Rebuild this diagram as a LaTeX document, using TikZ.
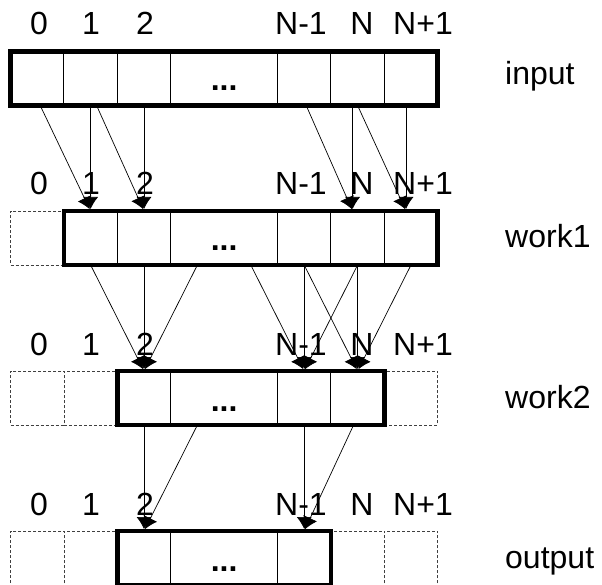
\documentclass[tikz,border=0pt]{standalone}
\usepackage{fontspec}
\setmainfont{Liberation Sans}
\usetikzlibrary{arrows.meta}
\begin{document}
\begin{tikzpicture}[x=1pt,y=-1pt,
  cellbox/.style={draw, line width=1pt, minimum height=54pt, inner sep=0pt, outer sep=0pt, anchor=north west},
  ghost/.style={draw=black!75, dash pattern=on 3pt off 2pt, line width=0.8pt, minimum height=54pt, inner sep=0pt, outer sep=0pt, anchor=north west},
  frame/.style={draw, line width=4.5pt},
  conn/.style={line width=0.7pt, shorten >=2pt, -{Latex[length=12pt,width=15pt]}},
  idx/.style={font=\fontsize{32}{32}\selectfont, anchor=base, inner sep=0pt},
  rowlabel/.style={font=\fontsize{32}{32}\selectfont, anchor=base west, inner sep=0pt},
  dots/.style={font=\fontsize{32}{32}\selectfont\bfseries, anchor=base, inner sep=0pt}
]
\useasboundingbox (0,0) rectangle (602,585);
\def\w{53.4}
\def\ww{106.8}
% ---------------- input row (top 51.5)
\node[cellbox, minimum width=\w pt] (i0) at (10.5,51.5) {};
\node[cellbox, minimum width=\w pt] (i1) at (63.9,51.5) {};
\node[cellbox, minimum width=\w pt] (i2) at (117.3,51.5) {};
\node[cellbox, minimum width=\ww pt] (id) at (170.7,51.5) {};
\node[cellbox, minimum width=\w pt] (im) at (277.5,51.5) {};
\node[cellbox, minimum width=\w pt] (in) at (330.9,51.5) {};
\node[cellbox, minimum width=\w pt] (ip) at (384.3,51.5) {};
\draw[frame] (i0.north west) rectangle (ip.south east);
\node[dots] (idt) at (224.1,91) {...};
% ---------------- work1 row (top 211)
\node[ghost, minimum width=\w pt] (w0) at (10.5,211) {};
\node[cellbox, minimum width=\w pt] (w1) at (63.9,211) {};
\node[cellbox, minimum width=\w pt] (w2) at (117.3,211) {};
\node[cellbox, minimum width=\ww pt] (wd) at (170.7,211) {};
\node[cellbox, minimum width=\w pt] (wm) at (277.5,211) {};
\node[cellbox, minimum width=\w pt] (wn) at (330.9,211) {};
\node[cellbox, minimum width=\w pt] (wp) at (384.3,211) {};
\draw[frame] (w1.north west) rectangle (wp.south east);
\node[dots] (wdt) at (224.1,251) {...};
% ---------------- work2 row (top 371)
\node[ghost, minimum width=\w pt] (v0) at (10.5,371) {};
\node[ghost, minimum width=\w pt] (v1) at (63.9,371) {};
\node[cellbox, minimum width=\w pt] (v2) at (117.3,371) {};
\node[cellbox, minimum width=\ww pt] (vd) at (170.7,371) {};
\node[cellbox, minimum width=\w pt] (vm) at (277.5,371) {};
\node[cellbox, minimum width=\w pt] (vn) at (330.9,371) {};
\node[ghost, minimum width=\w pt] (vp) at (384.3,371) {};
\draw[frame] (v2.north west) rectangle (vn.south east);
\node[dots] (vdt) at (224.1,411) {...};
% ---------------- output row (top 531)
\node[ghost, minimum width=\w pt] (o0) at (10.5,531) {};
\node[ghost, minimum width=\w pt] (o1) at (63.9,531) {};
\node[cellbox, minimum width=\w pt] (o2) at (117.3,531) {};
\node[cellbox, minimum width=\ww pt] (od) at (170.7,531) {};
\node[cellbox, minimum width=\w pt] (om) at (277.5,531) {};
\node[ghost, minimum width=\w pt] (on) at (330.9,531) {};
\node[ghost, minimum width=\w pt] (op) at (384.3,531) {};
\draw[frame] (o2.north west) rectangle (om.south east);
\node[dots] (odt) at (224.1,571) {...};
% ---------------- index labels
\foreach \t/\r in {35/a,195/b,355/c,515/d}{
  \node[idx] (l0\r) at (39,\t) {0};
  \node[idx] (l1\r) at (91,\t) {1};
  \node[idx] (l2\r) at (145,\t) {2};
  \node[idx] (lm\r) at (301,\t) {N-1};
  \node[idx] (ln\r) at (362,\t) {N};
  \node[idx] (lp\r) at (423,\t) {N+1};
}
% ---------------- row labels
\node[rowlabel] (tin) at (505,85) {input};
\node[rowlabel] (tw1) at (505,248) {work1};
\node[rowlabel] (tw2) at (505,408) {work2};
\node[rowlabel] (tout) at (505,568) {output};
% ---------------- input -> work1
\draw[conn] ([xshift=3pt]i0.south) -- (w1.north);
\draw[conn] (i1.south) -- (w1.north);
\draw[conn] ([xshift=6pt]i1.south) -- (w2.north);
\draw[conn] (i2.south) -- (w2.north);
\draw[conn] ([xshift=2pt]im.south) -- ([xshift=-5pt]wn.north);
\draw[conn] ([xshift=-5pt]in.south) -- ([xshift=-5pt]wn.north);
\draw[conn] (in.south) -- ([xshift=-5pt]wp.north);
\draw[conn] ([xshift=-5pt]ip.south) -- ([xshift=-5pt]wp.north);
% ---------------- work1 -> work2
\draw[conn] (w1.south) -- (v2.north);
\draw[conn] (w2.south) -- (v2.north);
\draw[conn] ([xshift=26.7pt]wd.south west) -- (v2.north);
\draw[conn] ([xshift=-26.7pt]wd.south east) -- (vm.north);
\draw[conn] (wm.south) -- (vm.north);
\draw[conn] (wn.south) -- (vm.north);
\draw[conn] (wm.south) -- (vn.north);
\draw[conn] (wn.south) -- (vn.north);
\draw[conn] (wp.south) -- (vn.north);
% ---------------- work2 -> output
\draw[conn] (v2.south) -- (o2.north);
\draw[conn] ([xshift=26.7pt]vd.south west) -- (o2.north);
\draw[conn] (vm.south) -- (om.north);
\draw[conn] ([xshift=-4pt]vn.south) -- (om.north);
\end{tikzpicture}
\end{document}
